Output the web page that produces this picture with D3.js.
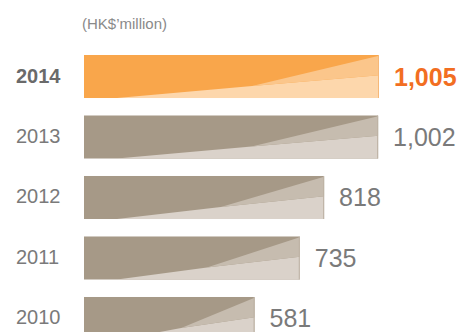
<!DOCTYPE html>
<html>
<head>
<meta charset="utf-8">
<script src="https://cdn.jsdelivr.net/npm/d3@7/dist/d3.min.js"></script>
<style>
  html, body { margin: 0; padding: 0; background: #fff; }
  svg { display: block; }
  text { font-family: "Liberation Sans", Arial, Helvetica, sans-serif; }
</style>
</head>
<body>
<svg id="chart" width="462" height="332"></svg>
<script>
// Annual figures, HK$ million
const years  = ["2014", "2013", "2012", "2011", "2010"];
const values = [1005, 1002, 818, 735, 581];
const valueLabels = ["1,005", "1,002", "818", "735", "581"];
const unitLabel = "(HK$\u2019million)";
const highlightYear = "2014";

const rows = years.map((y, i) => ({ year: y, value: values[i], label: valueLabels[i] }));

const svg = d3.select("#chart");

const x = d3.scaleLinear().domain([0, 1005]).range([84, 379]);
const y = d3.scaleBand().domain(years).range([55, 340]).paddingInner(0.289).paddingOuter(0);

const palette = {
  hi: { dark: "#F9A64B", mid: "#FBC68B", light: "#FDD7AC", edge: "#F6B878", text: "#F26E22", year: "#6a6a6a" },
  lo: { dark: "#A69987", mid: "#C6BCAF", light: "#DAD2CA", edge: "#BDB2A5", text: "#7a7a7a", year: "#7a7a7a" }
};
const pal = d => d.year === highlightYear ? palette.hi : palette.lo;

svg.append("text")
  .attr("x", 82).attr("y", 29)
  .attr("font-size", 15)
  .attr("fill", "#8a8a8a")
  .text(unitLabel);

const row = svg.selectAll("g.row").data(rows).join("g")
  .attr("class", "row")
  .attr("transform", d => `translate(0,${y(d.year)})`);

const h = y.bandwidth();
const w = d => x(d.value) - x(0);

// solid bar
row.append("rect")
  .attr("x", x(0)).attr("y", 0)
  .attr("width", d => w(d)).attr("height", h)
  .attr("fill", d => pal(d).dark);

// lighter lower wedge
row.append("path")
  .attr("fill", d => pal(d).light)
  .attr("d", d => {
    const x0 = x(0), bw = w(d);
    return `M${x0 + 33},${h} L${x0 + bw * 0.57},${h * 0.72} L${x0 + bw},${h * 0.47} L${x0 + bw},${h} Z`;
  });

// middle wedge toward the right edge
row.append("path")
  .attr("fill", d => pal(d).mid)
  .attr("d", d => {
    const x0 = x(0), bw = w(d);
    return `M${x0 + bw * 0.57},${h * 0.72} L${x0 + bw},${h * 0.02} L${x0 + bw},${h * 0.47} Z`;
  });

// thin right edge
row.append("line")
  .attr("x1", d => x(d.value) - 0.5).attr("x2", d => x(d.value) - 0.5)
  .attr("y1", 0).attr("y2", h)
  .attr("stroke", d => pal(d).edge).attr("stroke-width", 1);

// year labels
row.append("text")
  .attr("x", 16).attr("y", h / 2 - 1)
  .attr("dominant-baseline", "central")
  .attr("font-size", 20)
  .attr("font-weight", d => d.year === highlightYear ? "bold" : "normal")
  .attr("fill", d => pal(d).year)
  .text(d => d.year);

// value labels
row.append("text")
  .attr("x", d => x(d.value) + 15).attr("y", h / 2)
  .attr("dominant-baseline", "central")
  .attr("font-size", 25)
  .attr("font-weight", d => d.year === highlightYear ? "bold" : "normal")
  .attr("fill", d => pal(d).text)
  .text(d => d.label);
</script>
</body>
</html>
